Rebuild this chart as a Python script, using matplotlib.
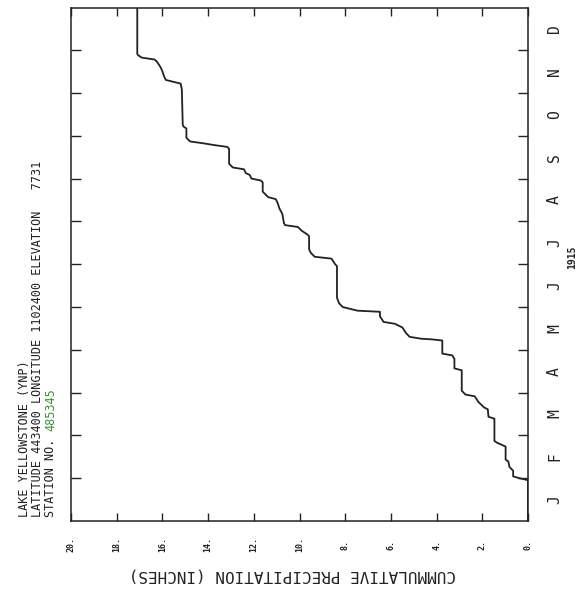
import numpy as np
import matplotlib
matplotlib.use("Agg")
import matplotlib.pyplot as plt

# cumulative precipitation (inches) vs day of year
day = [0, 29, 30.4, 31.7, 35.7, 38.4, 42.3, 43.6, 52.9, 55.6, 56.9, 72.7, 74.1, 79.4,
       80.7, 84.6, 88.6, 89.9, 92.6, 107.1, 108.5, 115.1, 117.7, 119.0, 128.3, 129.1,
       129.6, 130.9, 133.6, 137.6, 140.2, 141.5, 145.5, 148.7, 149.5, 152.1, 154.8,
       158.7, 181.2, 182.5, 186.5, 187.8, 190.5, 193.1, 202.4, 203.7, 206.3, 209.0,
       210.3, 211.6, 218.2, 222.2, 226.2, 228.8, 230.2, 232.8, 234.1, 240.7, 242.0,
       243.4, 246.0, 247.3, 250.0, 251.3, 253.9, 264.5, 265.9, 267.2, 268.5, 269.8,
       271.1, 272.4, 279.0, 280.4, 281.7, 306.9, 310.9, 313.5, 316.2, 320.1, 322.8,
       326.7, 328.0, 329.4, 331.2, 332.0, 365]
precip = [0, 0, 0.37, 0.65, 0.65, 0.81, 0.86, 0.98, 0.98, 1.35, 1.47, 1.47, 1.73, 1.76,
          1.92, 2.17, 2.33, 2.74, 2.90, 2.90, 3.22, 3.22, 3.31, 3.75, 3.75, 4.20,
          4.69, 5.18, 5.34, 5.50, 5.83, 6.32, 6.48, 6.48, 7.46, 8.11, 8.27,
          8.36, 8.36, 8.44, 8.60, 9.33, 9.50, 9.58, 9.58, 9.66, 9.90, 10.07,
          10.63, 10.68, 10.75, 10.88, 10.96, 11.04, 11.37, 11.53, 11.61, 11.61, 11.69,
          12.10, 12.18, 12.35, 12.43, 12.92, 13.08, 13.08, 13.16, 13.73, 14.22, 14.79,
          14.87, 14.95, 14.95, 15.08, 15.11, 15.15, 15.20, 15.85, 15.93, 16.01, 16.09,
          16.25, 16.34, 16.91, 17.07, 17.10, 17.10]

months = ["J", "F", "M", "A", "M", "J", "J", "A", "S", "O", "N", "D"]
xticks = np.arange(0, 21, 2)
xlabels = [f"{v}." for v in xticks]

W, H = 583, 589
fig = plt.figure(figsize=(W / 100, H / 100), dpi=100)
ax = fig.add_axes([71 / W, 1 - 521 / H, 457 / W, 513.5 / H])

mono = ["DejaVu Sans Mono", "DejaVu Sans"]
ink = "#222222"

ax.plot(precip, day, color=ink, lw=1.3)
ax.set_xlim(20, 0)
ax.set_ylim(0, 365)

ax.set_xticks(xticks)
ax.set_xticklabels(xlabels, rotation=90, fontsize=6, fontweight="bold",
                   family=mono, color=ink, va="center")
ax.tick_params(axis="x", direction="in", length=6, width=1, top=True, bottom=True,
               pad=17, colors=ink)

mlen = 365 / 12
ax.set_yticks(np.arange(1, 12) * mlen)
ax.set_yticks((np.arange(12) + 0.5) * mlen, minor=True)
ax.set_yticklabels([], minor=False)
ax.set_yticklabels(months, minor=True, rotation=90, fontsize=10.5, family=mono,
                   color=ink, va="center", ha="center")
ax.tick_params(axis="y", which="major", direction="in", length=7, width=1,
               left=True, right=True, labelleft=False, labelright=False, colors=ink)
ax.tick_params(axis="y", which="minor", length=0, left=False, right=False,
               labelleft=False, labelright=True, pad=19)

for s in ax.spines.values():
    s.set_linewidth(1.1)
    s.set_color(ink)

# header text (rotated page)
fig.text(25 / W, 1 - 517 / H, "LAKE YELLOWSTONE (YNP)", rotation=90, ha="center",
         va="bottom", fontsize=8.5, family=mono, color=ink)
fig.text(38 / W, 1 - 517 / H, "LATITUDE 443400 LONGITUDE 1102400 ELEVATION   7731",
         rotation=90, ha="center", va="bottom", fontsize=8.5, family=mono, color=ink)
fig.text(51 / W, 1 - 517 / H, "STATION NO. ", rotation=90, ha="center",
         va="bottom", fontsize=8.5, family=mono, color=ink)
fig.text(51 / W, 1 - (517 - 12 * 7.2) / H, "485345", rotation=90, ha="center",
         va="bottom", fontsize=8.5, family=mono, color="#3f8f3a")

fig.text(572 / W, 1 - 257 / H, "1915", rotation=90, ha="center", va="center",
         fontsize=7, fontweight="bold", family=mono, color=ink)
fig.text(292 / W, 1 - 575 / H, "CUMMULATIVE PRECIPITATION (INCHES)", rotation=180,
         ha="center", va="center", fontsize=11.5, family=mono, color=ink)

fig.savefig("out.png", dpi=100, facecolor="white")
